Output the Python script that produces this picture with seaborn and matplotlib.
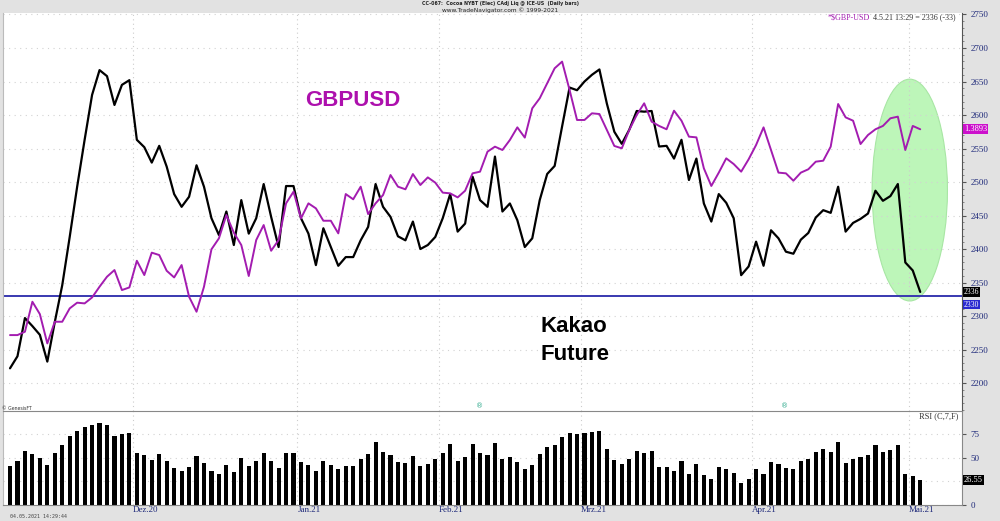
import numpy as np
import pandas as pd
import matplotlib
matplotlib.use('Agg')
import matplotlib.pyplot as plt
from matplotlib.patches import Ellipse
from matplotlib.ticker import AutoMinorLocator
import seaborn as sns

# daily closes, cocoa future (ICE), 04.11.2020 - 04.05.2021
kakao = [2222, 2240, 2297, 2285, 2272, 2232, 2291, 2346, 2418, 2493,
         2563, 2630, 2667, 2658, 2615, 2645, 2652, 2563, 2552, 2529,
         2554, 2523, 2482, 2463, 2478, 2525, 2493, 2446, 2421, 2456,
         2406, 2473, 2423, 2446, 2497, 2448, 2403, 2494, 2494, 2446,
         2423, 2376, 2431, 2403, 2375, 2388, 2388, 2413, 2433, 2497,
         2463, 2448, 2419, 2413, 2441, 2400, 2406, 2418, 2446, 2482,
         2426, 2438, 2508, 2473, 2463, 2538, 2456, 2468, 2443, 2403,
         2416, 2473, 2512, 2524, 2583, 2641, 2637, 2650, 2660, 2668,
         2617, 2575, 2557, 2578, 2606, 2605, 2606, 2553, 2554, 2535,
         2563, 2503, 2535, 2468, 2441, 2482, 2469, 2446, 2361, 2374,
         2411, 2375, 2428, 2416, 2396, 2393, 2414, 2424, 2447, 2458,
         2454, 2493, 2426, 2439, 2445, 2453, 2487, 2472, 2479, 2497,
         2380, 2368, 2336]

# GBPUSD overlay
gbpusd = [1.3029, 1.3029, 1.3043, 1.3169, 1.3117, 1.2994, 1.3085, 1.3085, 1.3141, 1.3165,
          1.3162, 1.3187, 1.3232, 1.3274, 1.3302, 1.3218, 1.3229, 1.3341, 1.3281, 1.3375,
          1.3365, 1.3299, 1.3271, 1.3323, 1.3190, 1.3127, 1.3232, 1.3389, 1.3435, 1.3533,
          1.3459, 1.3407, 1.3277, 1.3428, 1.3491, 1.3383, 1.3428, 1.3582, 1.3631, 1.3519,
          1.3582, 1.3561, 1.3509, 1.3509, 1.3456, 1.3621, 1.3599, 1.3652, 1.3537, 1.3582,
          1.3617, 1.3701, 1.3652, 1.3641, 1.3705, 1.3659, 1.3691, 1.3669, 1.3627, 1.3624,
          1.3607, 1.3635, 1.3708, 1.3715, 1.3799, 1.3820, 1.3806, 1.3848, 1.3901, 1.3858,
          1.3981, 1.4023, 1.4086, 1.4149, 1.4177, 1.4058, 1.3932, 1.3932, 1.3960, 1.3957,
          1.3890, 1.3823, 1.3813, 1.3890, 1.3953, 1.4002, 1.3925, 1.3907, 1.3893, 1.3971,
          1.3929, 1.3862, 1.3859, 1.3729, 1.3655, 1.3711, 1.3771, 1.3747, 1.3715, 1.3767,
          1.3827, 1.3901, 1.3806, 1.3711, 1.3708, 1.3677, 1.3711, 1.3725, 1.3757, 1.3761,
          1.3820, 1.3999, 1.3943, 1.3929, 1.3831, 1.3869, 1.3893, 1.3907, 1.3939, 1.3946,
          1.3806, 1.3907, 1.3893]

# RSI (C,7,F)
rsi = [41.7, 46, 57, 54, 50, 42, 54.5, 64, 72.6, 78, 82.6, 85, 86.8, 84.4, 72.6, 75, 76,
       54.5, 52.4, 47.6, 53.5, 46.5, 39, 35.4, 40, 52, 44.8, 36, 32.3, 42.7, 34.4,
       49.7, 41, 46, 55, 46.5, 39, 55, 55, 45.8, 42.4, 35.4, 46.9, 42.7, 38.2, 41.3, 41.3,
       48.6, 53.5, 66.3, 56.6, 52.8, 45.5, 44, 52, 41.7, 43.8, 48.6, 55.5, 65, 46.9, 50.7,
       64.2, 55.2, 52.8,
       65.6, 48.3, 50.3, 45.5, 38.5, 42, 53.8, 61, 63.2, 71.5, 76.7, 75.3, 76.7, 77.8, 78.8,
       59, 47.6, 43.8, 48.3, 57, 55.5, 57, 40.6, 40.6, 35.8, 46.5, 33, 43.8, 31.3, 27.8, 40, 37.8,
       34, 23, 27.4, 38.2, 32.3, 45.8, 43.4, 39.2, 38.5, 46.2, 49, 56.2, 59, 56.2, 66.7, 44.8,
       49, 50.3, 53, 63.2, 56.2, 58.3, 63.9, 32.6, 30.6, 26.55]

months = ['Dez.20', 'Jan.21', 'Feb.21', 'Mrz.21', 'Apr.21', 'Mai.21']
month_start = [17, 39, 58, 77, 100, 121]   # first bar of each month
support = 2330

df = pd.DataFrame({'idx': np.arange(len(kakao)), 'kakao': kakao, 'gbp': gbpusd, 'rsi': rsi})

sns.set_style('white')
navy = '#1f2a7a'
serif = 'Liberation Serif'
bounds = [m - 0.5 for m in month_start]
xlim = (-0.94, 127.6)

fig = plt.figure(figsize=(10, 5.21), dpi=100, facecolor='#e2e2e2')
ax = fig.add_axes([0.003, 0.211, 0.959, 0.764], facecolor='white')
ax2 = ax.twinx()
rax = fig.add_axes([0.003, 0.031, 0.959, 0.18], facecolor='white')

# highlight of the last days
ax.add_patch(Ellipse((120.6, 2488), width=10.1, height=331, facecolor='#bdf6b9',
                     edgecolor='#a8e6a4', lw=0.8, zorder=0))

for b in bounds:
    ax.axvline(b, color='#cccccc', ls=(0, (1, 3)), lw=0.8, zorder=0.5)
    rax.axvline(b, color='#cccccc', ls=(0, (1, 3)), lw=0.8, zorder=0.5)
ax.grid(axis='y', color='#d2d2d2', ls=(0, (1, 4)), lw=0.8)
ax.set_axisbelow(True)

ax.axhline(support, color='#3838b0', lw=1.4, zorder=1)
sns.lineplot(data=df, x='idx', y='kakao', ax=ax, color='black', lw=1.6, zorder=3)
sns.lineplot(data=df, x='idx', y='gbp', ax=ax2, color='#a31cb0', lw=1.4, zorder=2)

ax.set_xlim(xlim)
ax.set_ylim(2158.2, 2752.2)
ax2.set_ylim(1.2710, 1.4381)
ax.set_xticks([])
ax.set_xlabel('')
ax.set_ylabel('')
ax2.set_ylabel('')
ax2.set_yticks([])
ax.yaxis.tick_right()
ax.set_yticks(range(2200, 2751, 50))
ax.yaxis.set_minor_locator(AutoMinorLocator(5))
ax.tick_params(axis='y', which='major', length=3, pad=3, labelsize=6.5,
               labelcolor=navy, color='#555555')
ax.tick_params(axis='y', which='minor', length=1.5, color='#777777')
for t in ax.get_yticklabels():
    t.set_family(serif)
for a in (ax, ax2):
    for s in a.spines.values():
        s.set_visible(False)
ax.spines['right'].set_visible(True)
ax.spines['right'].set_color('#555555')
ax.spines['left'].set_visible(True)
ax.spines['left'].set_color('#bbbbbb')

# RSI panel
sns.barplot(data=df, x='idx', y='rsi', ax=rax, color='black', saturation=1,
            width=0.55, native_scale=True, edgecolor='none')
rax.set_xlim(xlim)
rax.set_ylim(0, 99.5)
rax.grid(axis='y', color='#d2d2d2', ls=(0, (1, 4)), lw=0.8)
rax.set_axisbelow(True)
rax.set_xlabel('')
rax.set_ylabel('')
rax.yaxis.tick_right()
# the 25 label sits under the value box of the last RSI reading
rax.set_yticks([0, 25, 50, 75])
rax.set_yticklabels(['0', '', '50', '75'])
rax.tick_params(axis='y', length=3, pad=3, labelsize=6.5, labelcolor=navy, color='#555555')
rax.set_xticks(bounds)
rax.set_xticklabels(months)
rax.tick_params(axis='x', length=0, pad=1, labelsize=6.5, labelcolor=navy)
for t in rax.get_xticklabels():
    t.set_horizontalalignment('left')
    t.set_family(serif)
for t in rax.get_yticklabels():
    t.set_family(serif)
for s in rax.spines.values():
    s.set_color('#888888')
    s.set_linewidth(0.8)
rax.spines['left'].set_color('#bbbbbb')

# value boxes on the right scale
box = dict(boxstyle='square,pad=0.1', lw=0)
ax2.text(1.002, gbpusd[-1], '%.4f' % gbpusd[-1], transform=ax2.get_yaxis_transform(),
         fontsize=6, family=serif, color='white', va='center', ha='left',
         bbox=dict(box, facecolor='#cc10cc'))
ax.text(1.002, support - 13, '%d' % support, transform=ax.get_yaxis_transform(),
        fontsize=5.5, family=serif, color='white', va='center', ha='left',
        bbox=dict(box, facecolor='#2a2ad0'))
ax.text(1.002, kakao[-1], '%d' % kakao[-1], transform=ax.get_yaxis_transform(),
        fontsize=5.5, family=serif, color='white', va='center', ha='left',
        bbox=dict(box, facecolor='black'))
rax.text(1.002, rsi[-1], '%.2f' % rsi[-1], transform=rax.get_yaxis_transform(),
         fontsize=6, family=serif, color='white', va='center', ha='left',
         bbox=dict(box, facecolor='black'))

# annotations
fig.text(0.305, 1 - 100 / 521, 'GBPUSD', fontsize=16, weight='bold', color='#ad10ad',
         family='Liberation Sans', va='center')
fig.text(0.541, 1 - 327 / 521, 'Kakao', fontsize=16, weight='bold', color='black',
         family='Liberation Sans', va='center')
fig.text(0.541, 1 - 355 / 521, 'Future', fontsize=16, weight='bold', color='black',
         family='Liberation Sans', va='center')

fig.text(0.5, 1 - 4 / 521, 'CC-067:  Cocoa NYBT (Elec) CAdj Liq @ ICE-US  (Daily bars)',
         fontsize=3.4, weight='bold', ha='center', va='center', color='#222222')
fig.text(0.5, 1 - 10.5 / 521, 'www.TradeNavigator.com \u00a9 1999-2021',
         fontsize=4.2, ha='center', va='center', color='#222222')
fig.text(0.828, 1 - 17 / 521, '*$GBP-USD', fontsize=5.8, family=serif, color='#a31cb0',
         va='center')
fig.text(0.873, 1 - 17 / 521, '4.5.21 13:29 = 2336 (-33)', fontsize=5.8, family=serif,
         color='#333333', va='center')
fig.text(0.958, 1 - 416 / 521, 'RSI (C,7,F)', fontsize=6, family=serif, color='#333333',
         va='center', ha='right')
fig.text(0.002, 1 - 408 / 521, '\u00a9 GenesisFT', fontsize=3.3, color='#333333', va='center')
fig.text(0.01, 1 - 516.5 / 521, '04.05.2021 14:29:44', fontsize=3.6, family='DejaVu Sans Mono',
         color='#444444', va='center')
for px in (480, 785):
    fig.text(px / 1000, 1 - 406 / 521, '\u00ae', fontsize=5, color='#2aa88a',
             ha='center', va='center')

fig.savefig('out.png', dpi=100, facecolor=fig.get_facecolor())
